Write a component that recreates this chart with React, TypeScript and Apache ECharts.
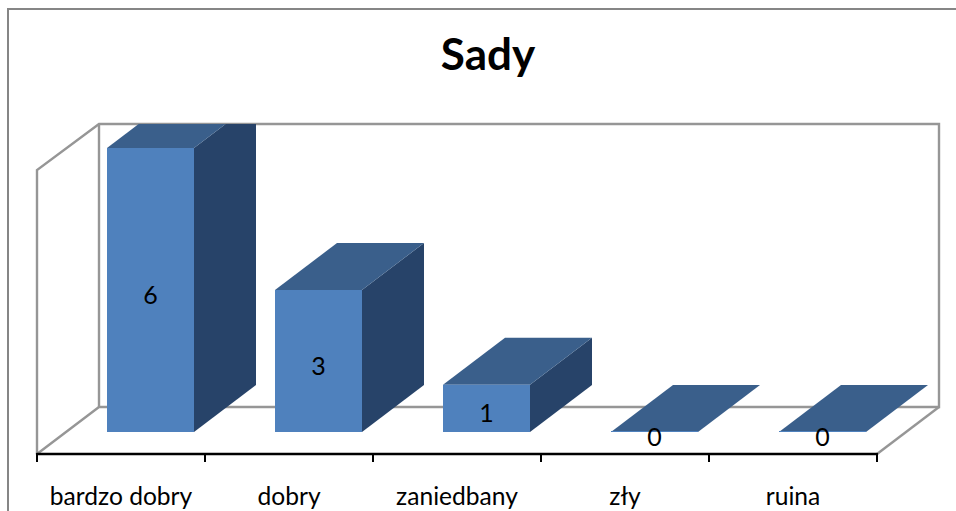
import React, { useEffect, useRef } from "react";
import * as echarts from "echarts";

const categories = ["bardzo dobry", "dobry", "zaniedbany", "zły", "ruina"];
const values = [6, 3, 1, 0, 0];
const titleText = "Sady";
const FONT = "Lato, 'Open Sans', sans-serif";

const FRONT = "#4f81bd";
const TOP = "#3a5f8b";
const SIDE = "#274369";
const WALL = "#969696";

const DX = 62;
const DY = 47;
const BAR_W = 87;
const SHIFT = 29.5;
const WALL_HEADROOM = 24;

export default function App() {
  const ref = useRef<HTMLDivElement>(null);
  useEffect(() => {
    const chart = echarts.init(ref.current!, undefined, { renderer: "svg" });
    const wallStyle = { stroke: WALL, lineWidth: 2.4, fill: "none" };
    chart.setOption({
      animation: false,
      backgroundColor: "#fff",
      title: {
        text: titleText,
        left: 483,
        top: 26,
        textAlign: "center",
        textStyle: { fontFamily: FONT, fontSize: 44, fontWeight: "bold", color: "#000" },
      },
      grid: { left: 37, top: 148, width: 840, height: 284 },
      xAxis: {
        type: "category",
        data: categories,
        offset: 22,
        axisLine: { show: true, onZero: false, lineStyle: { color: "#000", width: 2.4 } },
        axisTick: { show: true, length: 8, lineStyle: { color: "#000", width: 2 } },
        axisLabel: { interval: 0, fontFamily: FONT, fontSize: 24.6, color: "#000", margin: 29 },
      },
      yAxis: { type: "value", min: 0, max: 6, show: false },
      graphic: [
        { type: "polyline", z: 0, shape: { points: [[8, 511], [8, 9], [956, 9]] }, style: { stroke: "#868686", lineWidth: 2, fill: "none" } },
        { type: "polyline", z: 0, shape: { points: [[37, 454], [37, 170], [99, 124], [939, 124], [939, 407], [99, 407], [37, 454]] }, style: wallStyle },
        { type: "line", z: 0, shape: { x1: 99, y1: 124, x2: 99, y2: 407 }, style: wallStyle },
        { type: "line", z: 0, shape: { x1: 939, y1: 407, x2: 877, y2: 454 }, style: wallStyle },
      ],
      series: [
        {
          type: "custom",
          clip: false,
          data: values.map((v, i) => [i, v]),
          encode: { x: 0, y: 1 },
          renderItem: (_p: any, api: any) => {
            const v = api.value(1);
            const [cx, y] = api.coord([api.value(0), v]);
            const [, y0] = api.coord([api.value(0), 0]);
            const [, yMax] = api.coord([0, 6]);
            const clipY = yMax - WALL_HEADROOM;
            const center = cx + SHIFT;
            const x0 = center - BAR_W / 2;
            const x1 = center + BAR_W / 2;
            const t = y - DY < clipY ? (y - clipY) / DY : 1;
            const by = y - DY * t;
            const bx = DX * t;
            const children: any[] = [
              {
                type: "polygon",
                shape: { points: [[x1, y], [x1 + bx, by], [x1 + DX, by], [x1 + DX, y0 - DY], [x1, y0]] },
                style: { fill: SIDE },
              },
              {
                type: "polygon",
                shape: { points: [[x0, y], [x0 + bx, by], [x1 + bx, by], [x1, y]] },
                style: { fill: TOP },
              },
              {
                type: "rect",
                shape: { x: x0, y: Math.min(y, y0 - 1), width: BAR_W, height: Math.max(y0 - y, 1) },
                style: { fill: FRONT },
              },
              {
                type: "text",
                style: {
                  text: String(v),
                  x: center,
                  y: (y + y0) / 2 + 4,
                  align: "center",
                  verticalAlign: "middle",
                  fontFamily: FONT,
                  fontSize: 25,
                  fill: "#000",
                },
              },
            ];
            return { type: "group", children };
          },
        },
      ],
    });
    return () => chart.dispose();
  }, []);
  return (
    <div
      ref={ref}
      style={{ position: "fixed", left: 0, top: 0, width: 956, height: 511 }}
    />
  );
}
